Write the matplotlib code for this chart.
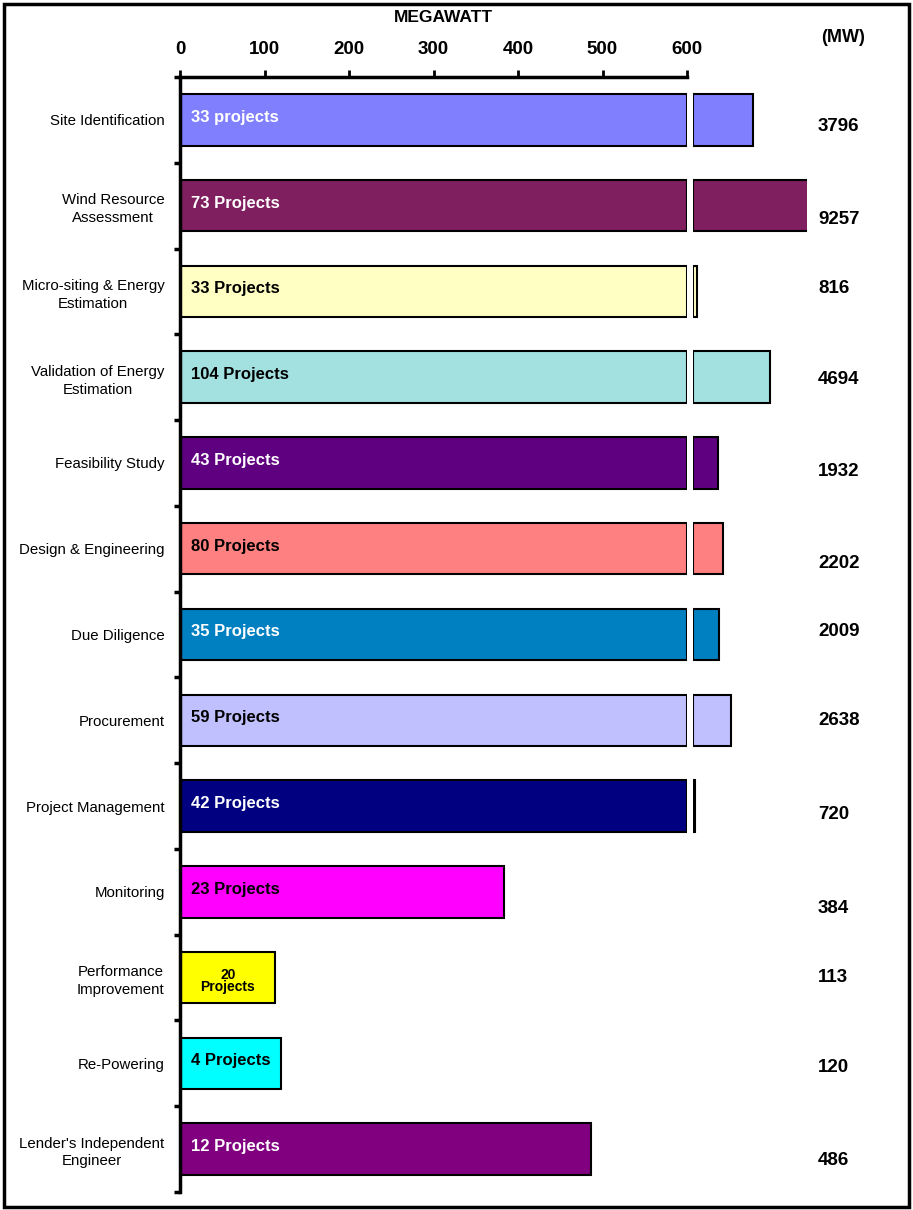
import matplotlib
matplotlib.use("Agg")
import matplotlib.pyplot as plt
from matplotlib.patches import Rectangle
import numpy as np

plt.rcParams['font.family'] = ['Liberation Sans', 'DejaVu Sans']

# Data
services = ['Site Identification', 'Wind Resource\nAssessment',
            'Micro-siting & Energy\nEstimation', 'Validation of Energy\nEstimation',
            'Feasibility Study', 'Design & Engineering', 'Due Diligence',
            'Procurement', 'Project Management', 'Monitoring',
            'Performance\nImprovement', 'Re-Powering',
            "Lender's Independent\nEngineer"]
megawatt = [3796, 9257, 816, 4694, 1932, 2202, 2009, 2638, 720, 384, 113, 120, 486]
project_labels = ['33 projects', '73 Projects', '33 Projects', '104 Projects',
                  '43 Projects', '80 Projects', '35 Projects', '59 Projects',
                  '42 Projects', '23 Projects', '20\nProjects', '4 Projects',
                  '12 Projects']
bar_colors = ['#8080ff', '#7f1f5f', '#ffffc4', '#a3e0e0', '#5f0080', '#ff8080',
              '#0080c0', '#c0c0ff', '#000080', '#ff00ff', '#ffff00', '#00ffff',
              '#800080']
text_colors = ['white', 'white', 'black', 'black', 'white', 'black', 'white',
               'black', 'white', 'black', 'black', 'black', 'white']
ticks_mw = [0, 100, 200, 300, 400, 500, 600]

# small vertical nudges of the value column (category units)
value_shift = [0.08, 0.16, -0.03, 0.03, 0.1, 0.17, -0.03, 0.0, 0.1, 0.19, 0.0, 0.05, 0.13]

W, H = 913, 1210
fig = plt.figure(figsize=(W / 100, H / 100), dpi=100)

y = np.arange(len(services))
top_px, bot_px = 77, 1192
ax1 = fig.add_axes([180 / W, 1 - bot_px / H, 507 / W, (bot_px - top_px) / H])
ax2 = fig.add_axes([693 / W, 1 - bot_px / H, 114 / W, (bot_px - top_px) / H])

# main segment 0..600
main_w = [min(v, 600) for v in megawatt]
ax1.barh(y, main_w, height=0.6, color=bar_colors, edgecolor='black', linewidth=1.5)
ax1.set_xlim(0, 600)
ax1.set_ylim(len(services) - 0.5, -0.5)

# broken segment above 600
over = [max(v - 600, 0) for v in megawatt]
for i, extra in enumerate(over):
    if extra > 0:
        ax2.barh(y[i], extra, left=600, height=0.6, color=bar_colors[i],
                 edgecolor='black', linewidth=1.5)
ax2.set_xlim(600, 6700)
ax2.set_ylim(len(services) - 0.5, -0.5)
ax2.axis('off')

# axes styling
ax1.xaxis.tick_top()
ax1.set_xticks(ticks_mw)
ax1.set_xticklabels([str(t) for t in ticks_mw], fontsize=13.5, fontweight='bold')
ax1.tick_params(axis='x', direction='out', length=5, width=2, pad=9)
ax1.spines['top'].set_linewidth(2.5)
ax1.spines['left'].set_linewidth(2.5)
ax1.spines['right'].set_visible(False)
ax1.spines['bottom'].set_visible(False)
ax1.set_yticks(y)
ax1.set_yticklabels(services, fontsize=10.8, multialignment='center', linespacing=1.35)
ax1.tick_params(axis='y', which='major', length=0, pad=11)
ax1.set_yticks(np.arange(len(services) + 1) - 0.5, minor=True)
ax1.tick_params(axis='y', which='minor', direction='out', length=4, width=2.5)

# project count labels inside bars
for i, lab in enumerate(project_labels):
    if '\n' in lab:
        ax1.text(main_w[i] / 2, y[i] + 0.04, lab, ha='center', va='center',
                 fontsize=10, fontweight='bold', color=text_colors[i], linespacing=0.9)
    else:
        ax1.text(13, y[i] - 0.03, lab, ha='left', va='center', fontsize=12,
                 fontweight='bold', color=text_colors[i])

# MW values on the right
row_px = (bot_px - top_px) / len(services)
for i, v in enumerate(megawatt):
    ypx = top_px + (y[i] + 0.5 + value_shift[i]) * row_px
    fig.text(818 / W, 1 - ypx / H, str(v), fontsize=13.5, fontweight='bold',
             va='center', ha='left')

fig.text(443 / W, 1 - 18 / H, 'MEGAWATT', ha='center', va='center', fontsize=12.5,
         fontweight='bold')
fig.text(843 / W, 1 - 37 / H, '(MW)', ha='center', va='center', fontsize=13,
         fontweight='bold')

# frame around the figure
fig.patches.append(Rectangle((4 / W, 3 / H), 905 / W, 1203 / H, transform=fig.transFigure,
                             fill=False, edgecolor='black', linewidth=2.5))

fig.savefig('out.png', dpi=100)
